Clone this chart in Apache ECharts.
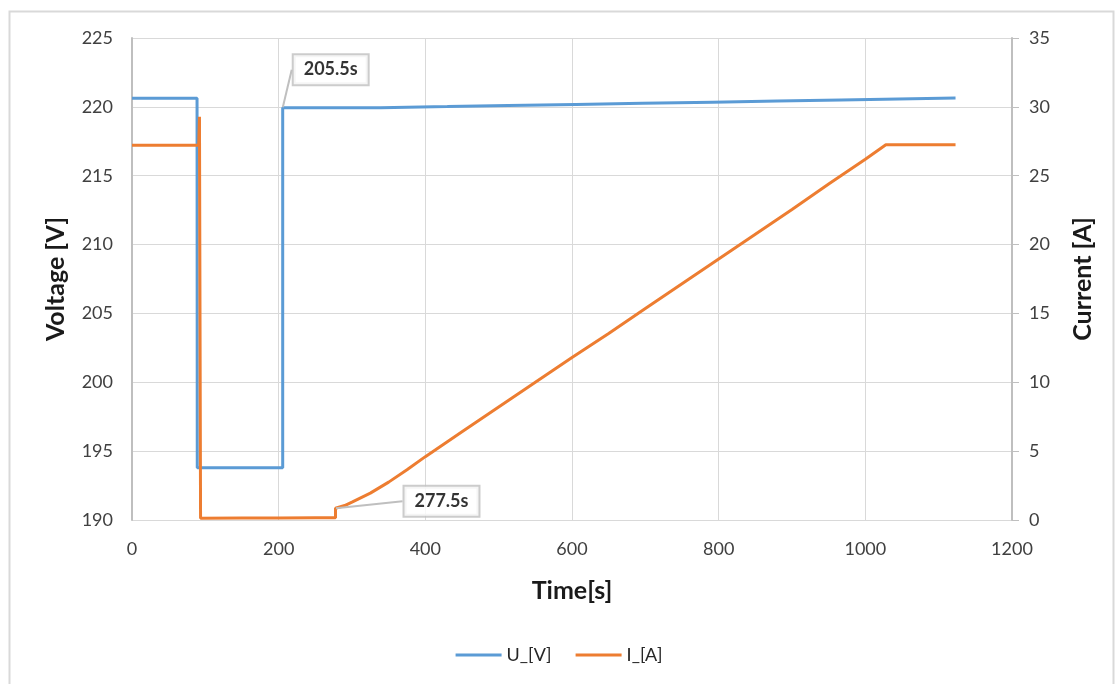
<!DOCTYPE html>
<html>
<head>
<meta charset="utf-8">
<script src="https://cdn.jsdelivr.net/npm/echarts@6/dist/echarts.min.js"></script>
<style>html,body{margin:0;padding:0;background:#fff}#c{width:1118px;height:684px}</style>
</head>
<body>
<div id="c"></div>
<script>
// ---- data ----
const voltTime   = [0, 88.7, 89, 205.5, 205.5, 339, 339, 430, 430, 513, 513, 605, 605, 696, 696, 792, 792, 880, 880, 967, 967, 1123];
const voltValues = [220.62, 220.62, 193.8, 193.8, 219.94, 219.94, 220.02, 220.02, 220.10, 220.10, 220.18, 220.18, 220.26, 220.26, 220.34, 220.34, 220.42, 220.42, 220.50, 220.50, 220.64, 220.64];
const currTime   = [0, 91, 92, 93.5, 150, 200, 250, 277.5, 277.5, 290, 300, 325, 350, 375, 400, 450, 500, 550, 600, 650, 700, 750, 800, 850, 900, 950, 1000, 1028, 1123];
const currValues = [27.22, 27.22, 29.28, 0.12, 0.15, 0.15, 0.17, 0.17, 0.85, 1.05, 1.3, 1.95, 2.75, 3.65, 4.6, 6.4, 8.2, 10.0, 11.8, 13.55, 15.35, 17.15, 18.95, 20.75, 22.55, 24.4, 26.2, 27.25, 27.25];
const xTicks = {min: 0, max: 1200, interval: 200};
const vTicks = {min: 190, max: 225, interval: 5};
const iTicks = {min: 0, max: 35, interval: 5};
const callouts = [
  {name: '205.5s', t: 205.5, v: 219.94, axis: 0},
  {name: '277.5s', t: 277.5, v: 0.85, axis: 1}
];
const seriesNames = ['U_[V]', 'I_[A]'];

const voltData = voltTime.map((t, i) => [t, voltValues[i]]);
const currData = currTime.map((t, i) => [t, currValues[i]]);

const FONT = 'Lato, "Open Sans", sans-serif';
const chart = echarts.init(document.getElementById('c'), null, {renderer: 'canvas'});
const calloutShift = [[48, -38], [106, -7]];

chart.setOption({
  animation: false,
  backgroundColor: '#fff',
  textStyle: {fontFamily: FONT},
  graphic: [{
    type: 'rect', left: 7, top: 9, z: -10,
    shape: {width: 1104, height: 690},
    style: {fill: 'none', stroke: '#d9d9d9', lineWidth: 2}
  }],
  grid: {left: 132, right: 106, top: 38, bottom: 164},
  legend: {
    data: seriesNames,
    bottom: 15, left: 'center',
    icon: 'rect', itemWidth: 46, itemHeight: 3, itemGap: 24,
    textStyle: {fontSize: 18, color: '#262626', fontFamily: FONT}
  },
  xAxis: {
    type: 'value', min: xTicks.min, max: xTicks.max, interval: xTicks.interval,
    name: 'Time[s]', nameLocation: 'middle', nameGap: 58,
    nameTextStyle: {fontSize: 25, fontWeight: 'bold', color: '#1a1a1a'},
    axisLine: {show: false},
    axisTick: {show: false},
    axisLabel: {fontSize: 18, color: '#404040', margin: 20, formatter: v => String(v)},
    splitLine: {show: true, lineStyle: {color: '#d9d9d9', width: 1}}
  },
  yAxis: [{
    type: 'value', min: vTicks.min, max: vTicks.max, interval: vTicks.interval,
    name: 'Voltage [V]', nameLocation: 'middle', nameGap: 64,
    nameTextStyle: {fontSize: 25, fontWeight: 'bold', color: '#1a1a1a'},
    axisLine: {show: true, lineStyle: {color: '#bfbfbf', width: 2}},
    axisTick: {show: false},
    axisLabel: {fontSize: 18, color: '#404040', margin: 19},
    splitLine: {show: true, lineStyle: {color: '#d9d9d9', width: 1}}
  }, {
    type: 'value', min: iTicks.min, max: iTicks.max, interval: iTicks.interval,
    name: 'Current [A]', nameLocation: 'middle', nameGap: 58,
    nameTextStyle: {fontSize: 25, fontWeight: 'bold', color: '#1a1a1a'},
    axisLine: {show: true, lineStyle: {color: '#bfbfbf', width: 2}},
    axisTick: {show: true, length: 7, lineStyle: {color: '#bfbfbf', width: 1}},
    axisLabel: {fontSize: 18, color: '#404040', margin: 17},
    splitLine: {show: false}
  }],
  series: [{
    name: seriesNames[0], type: 'line', yAxisIndex: 0, data: voltData,
    showSymbol: false, symbol: 'none',
    lineStyle: {color: '#5b9bd5', width: 3}, itemStyle: {color: '#5b9bd5'}, z: 3
  }, {
    name: seriesNames[1], type: 'line', yAxisIndex: 1, data: currData,
    showSymbol: false, symbol: 'none',
    lineStyle: {color: '#ed7d31', width: 3}, itemStyle: {color: '#ed7d31'}, z: 4
  }].concat(callouts.map((c, k) => ({
    type: 'scatter', yAxisIndex: c.axis, symbolSize: 1, z: 10,
    itemStyle: {color: 'rgba(0,0,0,0)'},
    data: [[c.t, c.v]],
    silent: true,
    label: {
      show: true, position: 'inside', formatter: c.name,
      fontSize: 18, fontWeight: 'bold', color: '#000', fontFamily: FONT,
      backgroundColor: '#fff', borderColor: '#bfbfbf', borderWidth: 2,
      padding: [6, 10, 5, 10]
    },
    labelLayout: {dx: calloutShift[k][0], dy: calloutShift[k][1]},
    labelLine: {show: true, lineStyle: {color: '#bfbfbf', width: 2}}
  })))
});
</script>
</body>
</html>
